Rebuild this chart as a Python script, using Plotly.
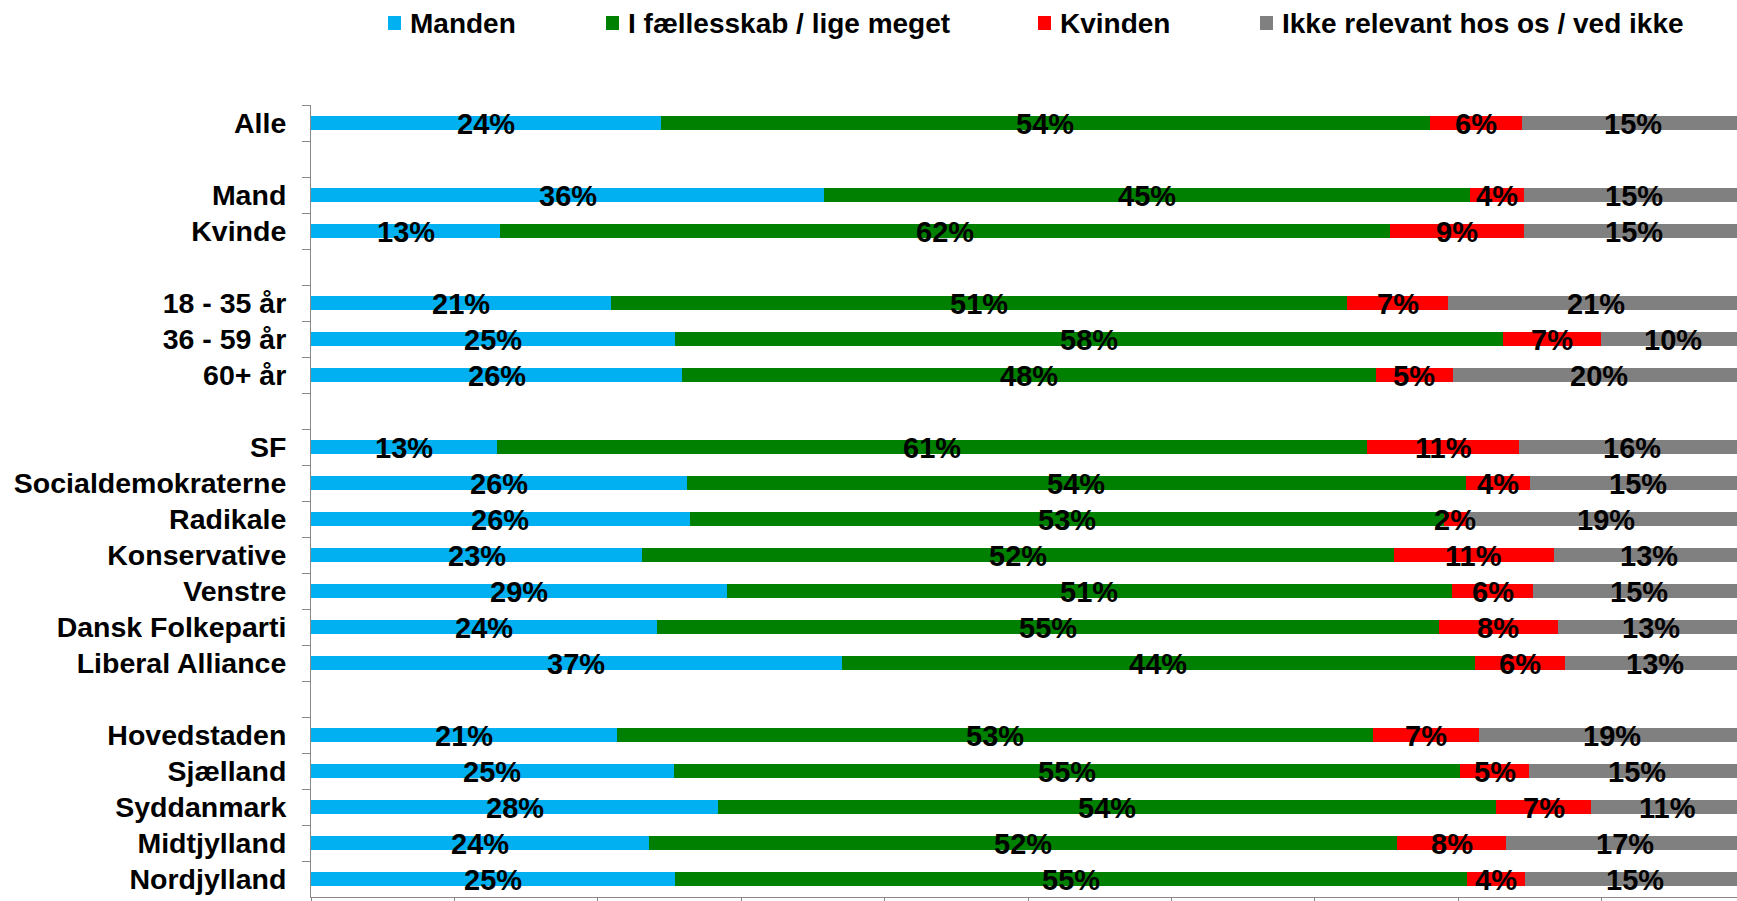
import plotly.graph_objects as go

categories = ["Alle", " ", "Mand", "Kvinde", "  ", "18 - 35 år", "36 - 59 år", "60+ år", "   ",
              "SF", "Socialdemokraterne", "Radikale", "Konservative", "Venstre", "Dansk Folkeparti",
              "Liberal Alliance", "    ", "Hovedstaden", "Sjælland", "Syddanmark", "Midtjylland", "Nordjylland"]

series_names = ["Manden", "I fællesskab / lige meget", "Kvinden", "Ikke relevant hos os / ved ikke"]
series_colors = ["#00B0F0", "#008000", "#FF0000", "#808080"]

manden = [24.4, None, 35.8, 13.2, None, 20.9, 25.4, 25.9, None,
          13.0, 26.2, 26.4, 23.1, 29.0, 24.1, 37.0, None, 21.35, 25.3, 28.4, 23.58, 25.4]
faelles = [53.6, None, 45.05, 62.07, None, 51.33, 57.72, 48.34, None,
           60.67, 54.34, 52.58, 52.39, 50.56, 54.53, 44.15, None, 52.69, 54.86, 54.25, 52.17, 55.23]
kvinden = [6.45, None, 3.71, 9.29, None, 7.08, 6.83, 5.37, None,
           10.58, 4.46, 1.65, 11.16, 5.67, 8.32, 6.29, None, 7.38, 4.76, 6.6, 7.57, 4.01]
ikke = [15.43, None, 15.43, 15.43, None, 20.66, 10.03, 20.38, None,
        15.77, 15.01, 19.35, 13.33, 14.73, 13.01, 12.57, None, 18.58, 15.08, 10.75, 16.68, 15.36]

series_values = [manden, faelles, kvinden, ikke]

FONT = "Liberation Sans, Arial, sans-serif"

fig = go.Figure()
for name, color, vals in zip(series_names, series_colors, series_values):
    fig.add_trace(go.Bar(
        y=categories, x=vals, name=name, orientation="h",
        marker=dict(color=color, line=dict(width=0)),
        showlegend=False, hoverinfo="x+name",
    ))

# data labels on top of all bars, centred in each segment
starts = [0.0] * len(categories)
for vals in series_values:
    for i, (c, v) in enumerate(zip(categories, vals)):
        if v is None:
            continue
        fig.add_annotation(
            x=starts[i] + v / 2, y=c, xref="x", yref="y", text=f"{v:.0f}%",
            showarrow=False, xanchor="center", yanchor="middle", yshift=-1,
            font=dict(family=FONT, size=29, color="black", weight="bold"),
        )
        starts[i] += v

# legend drawn manually (squares + labels)
W, H = 1737, 901
L, R, T, B = 311, 0, 105, 4
pw, ph = W - L - R, H - T - B
def px2x(px): return (px - L) / pw
def py2y(py): return (H - B - py) / ph

leg_sq_left = [388, 606, 1038, 1260]
for name, color, sx in zip(series_names, series_colors, leg_sq_left):
    fig.add_shape(type="rect", xref="paper", yref="paper",
                  x0=px2x(sx), x1=px2x(sx + 13), y0=py2y(30), y1=py2y(16),
                  fillcolor=color, line=dict(width=0))
    fig.add_annotation(xref="paper", yref="paper", x=px2x(sx + 20), y=py2y(23.5),
                       xanchor="left", yanchor="middle", showarrow=False, text=name,
                       font=dict(family=FONT, size=28, color="black", weight="bold"))

fig.update_layout(
    template="none",
    width=W, height=H,
    margin=dict(l=L, r=R, t=T, b=B, autoexpand=False),
    barmode="stack", bargap=0.6,
    paper_bgcolor="white", plot_bgcolor="white",
    showlegend=False,
    xaxis=dict(range=[0, (W - L) / 14.34], showgrid=False, zeroline=False,
               showline=True, linecolor="#898989", linewidth=1,
               ticks="outside", tick0=0, dtick=10, ticklen=8, tickcolor="#898989",
               showticklabels=False, automargin=False, fixedrange=True),
    yaxis=dict(type="category", categoryorder="array", categoryarray=categories,
               range=[len(categories) - 0.5, -0.5], autorange=False,
               tickmode="linear", tick0=0, dtick=1,
               showgrid=False, zeroline=False,
               showline=True, linecolor="#898989", linewidth=1,
               ticks="outside", tickson="boundaries", ticklen=8, tickcolor="#898989",
               tickfont=dict(family=FONT, size=28.5, color="black", weight="bold"),
               ticklabelstandoff=18, automargin=False, fixedrange=True),
)

fig.write_html("out.html", config={"displayModeBar": False},
               post_script="document.body.style.margin='0px';document.body.style.overflow='hidden';")
